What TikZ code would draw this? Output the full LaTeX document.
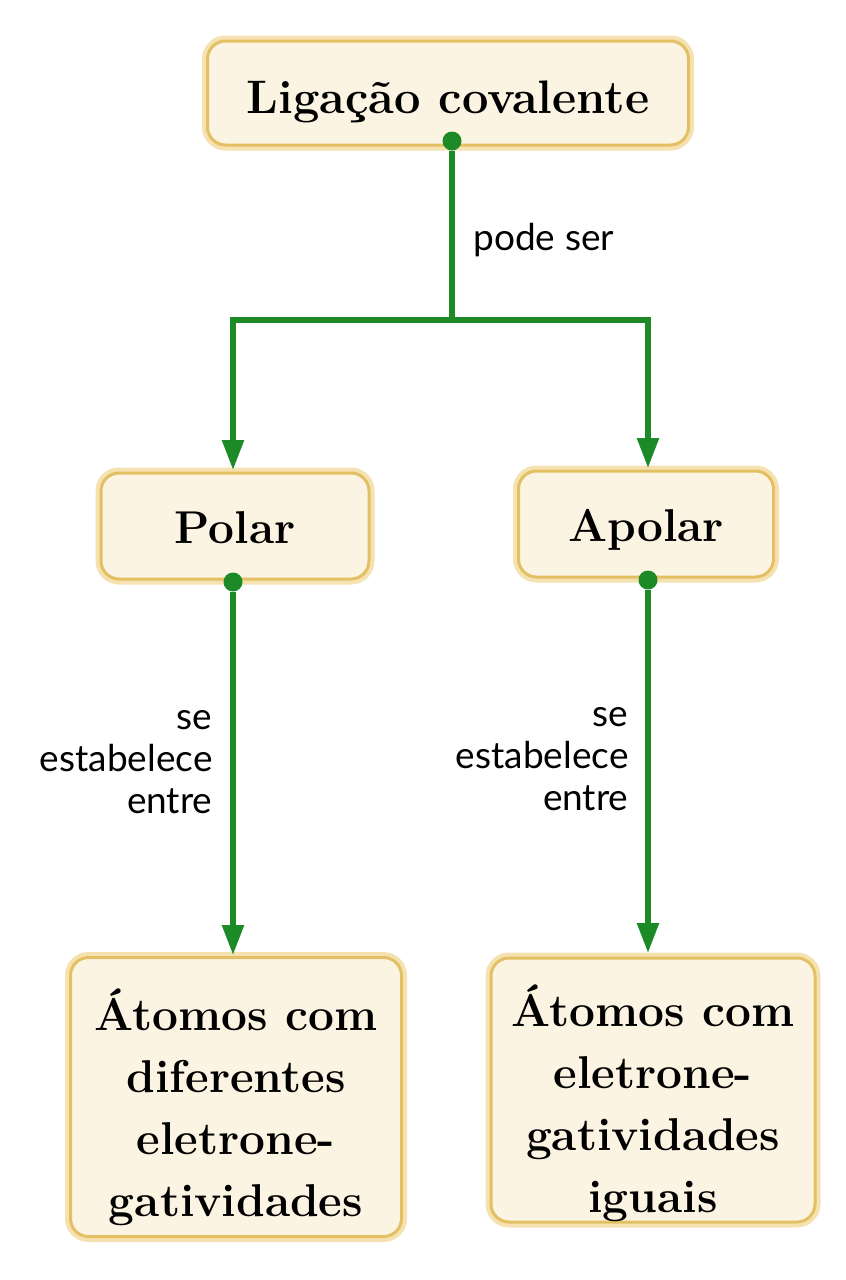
\documentclass[tikz,border=0pt]{standalone}
\usepackage{fontspec}
\setsansfont{Lato}
\usetikzlibrary{arrows.meta}
\definecolor{gr}{RGB}{28,138,38}
\definecolor{cream}{RGB}{252,244,226}
\definecolor{gold}{RGB}{228,192,100}
\definecolor{goldlt}{RGB}{245,226,176}
\tikzset{
  box/.style={rounded corners=18pt, fill=cream, draw=gold, line width=3pt,
    preaction={draw=goldlt, line width=11pt}, inner sep=0pt},
  ttl/.style={inner sep=0pt, align=center, font=\bfseries\fontsize{47}{61}\selectfont},
  big/.style={inner sep=0pt, align=center, font=\bfseries\fontsize{46}{62}\selectfont},
  conn/.style={draw=gr, line width=5.5pt},
  arr/.style={conn, -{Triangle[length=30pt,width=21pt]}},
  dotnode/.style={circle, fill=gr, minimum size=19pt, inner sep=0pt},
  lab/.style={font=\sffamily\fontsize{37}{42}\selectfont}
}
\begin{document}
\begin{tikzpicture}[x=1pt,y=-1pt]
\useasboundingbox (0,0) rectangle (846,1280);
% boxes
\node[box, minimum width=481pt, minimum height=104pt] (lig) at (448,93) {};
\node[box, minimum width=268pt, minimum height=106pt] (pol) at (235,526) {};
\node[box, minimum width=255pt, minimum height=106pt] (apo) at (646,524) {};
\node[box, minimum width=331pt, minimum height=279pt] (atl) at (236,1097) {};
\node[box, minimum width=324pt, minimum height=264pt] (atr) at (653,1090) {};
% box texts
\node[ttl, anchor=base] (ligt) at (448,113) {Ligação covalente};
\node[big, anchor=base] (polt) at (235,543) {Polar};
\node[big, anchor=base] (apot) at (646,541) {Apolar};
\node[big, anchor=north] (atlt) at (236,989) {Átomos com\\diferentes\\eletrone-\\gatividades};
\node[big, anchor=north] (atrt) at (653,985) {Átomos com\\eletrone-\\gatividades\\iguais};
% connectors
\node[dotnode] (d1) at (452,141) {};
\node[dotnode] (d2) at (233,582) {};
\node[dotnode] (d3) at (648,580) {};
\coordinate (j) at (452,320);
\coordinate (el) at (233,470);
\coordinate (er) at (648,468);
\coordinate (ebl) at (233,955);
\coordinate (ebr) at (648,953);
\draw[conn] (d1) -- (j);
\draw[arr] (j) -| (el);
\draw[arr] (j) -| (er);
\draw[arr] (d2) -- (ebl);
\draw[arr] (d3) -- (ebr);
% labels
\node[lab, anchor=base west] (pode) at (470,250) {pode ser};
\node[lab, anchor=east, align=right] (sel) at (216,762) {se\\estabelece\\entre};
\node[lab, anchor=east, align=right] (ser) at (632,759) {se\\estabelece\\entre};
\end{tikzpicture}
\end{document}
